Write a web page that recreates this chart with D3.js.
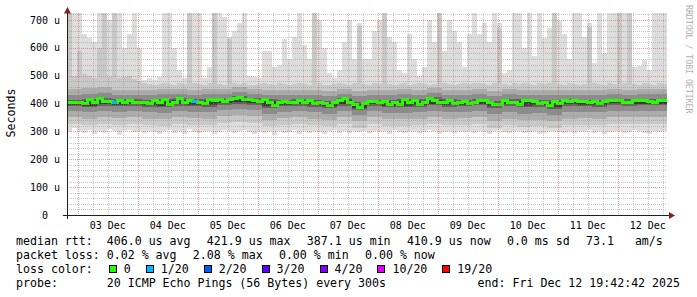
<!DOCTYPE html>
<html>
<head>
<meta charset="utf-8">
<script src="https://cdn.jsdelivr.net/npm/d3@7"></script>
<style>
  body { margin: 0; background: #fff; }
  svg { display: block; }
  text { font-family: "DejaVu Sans Mono", monospace; fill: #000; }
</style>
</head>
<body>
<svg id="chart" width="697" height="297"></svg>
<script>
// ---- data ----
const startTime = "2025-12-02T19:42:42Z";
const endTime = "2025-12-12T19:42:42Z";
const colHours = 2;     // one value every 2 hours
const bandHours = 6;    // inner smoke bands, one value every 6 hours

// top / bottom of the lightest smoke (us)
const maxRtt = [
  725,725,725,650,635,620,725,725,700,725,725,600,650,725,600,485,490,485,495,725,
  725,600,520,490,725,725,725,490,530,725,725,710,640,660,690,725,500,495,490,590,
  590,530,540,630,560,640,725,610,560,725,700,600,510,490,520,620,700,560,690,560,
  560,660,700,725,640,620,520,510,650,560,500,530,700,620,725,590,700,660,620,530,
  650,725,650,690,620,725,690,510,520,725,725,600,725,570,725,635,670,725,695,650,
  560,725,725,640,690,545,725,580,725,725,725,725,725,530,535,555,520,725,725,725
];
const minRtt = [
  298,312,300,296,305,290,300,296,310,302,288,300,306,298,300,294,302,298,292,300,
  304,296,300,292,308,298,294,302,300,290,298,304,300,296,302,306,298,292,300,296,
  300,288,302,296,298,304,292,300,296,302,298,290,300,306,296,300,294,302,298,300,
  296,302,298,300,290,304,298,296,302,300,294,298,306,300,292,298,302,296,300,298,
  302,296,300,298,292,300,304,298,296,300,302,294,298,300,290,296,302,300,298,294,
  300,296,302,298,304,296,300,292,298,302,300,296,298,304,300,296,292,300,298,302
];
// top of the second smoke shade (darker streaks where several pings are slow)
const upper1 = [
  725,500,590,505,498,492,600,725,495,725,490,495,500,488,480,472,470,468,470,475,
  470,468,472,470,725,475,470,468,472,725,470,468,630,472,470,475,468,466,470,472,
  470,468,472,470,466,470,474,470,468,725,472,468,466,470,472,470,468,472,680,470,
  468,472,470,725,470,466,470,472,468,470,474,470,468,470,725,472,470,468,470,472,
  470,474,472,470,468,472,670,470,468,472,470,474,470,468,472,470,474,725,470,468,
  472,470,468,470,675,472,470,468,472,470,725,472,725,470,468,472,470,468,472,470
];
const median = [
  405,405,404,400,414,405,417,406,406,404,410,405,412,405,404,403,400,410,404,415,
  398,404,417,405,410,406,403,400,413,410,416,409,413,418,421,413,416,410,408,413,
  405,393,402,407,405,405,410,404,410,400,402,400,394,405,410,418,405,397,387,400,
  407,406,402,407,396,404,396,415,405,410,397,405,418,412,405,402,410,399,402,408,
  400,405,412,412,402,398,396,412,404,405,396,410,411,408,400,405,393,408,400,410,
  406,410,408,408,404,408,400,408,412,410,410,405,404,410,412,410,408,405,410,411
];
// lost pings (out of 20) per column
const lost = [
  0,0,0,0,0,0,0,0,0,1,0,0,0,0,0,0,0,0,0,0,
  0,0,0,0,0,1,0,0,0,0,0,0,0,0,0,0,0,0,0,0,
  0,0,0,0,0,0,0,0,0,0,0,0,0,0,0,0,0,0,0,0,
  0,0,0,0,0,0,0,0,0,0,0,0,0,0,0,0,0,0,0,0,
  0,0,0,0,0,0,0,0,0,0,0,0,0,0,0,0,0,0,0,0,
  0,0,0,0,0,0,0,0,0,0,0,0,0,0,0,0,0,0,0,0
];
const lower1 = [326,322,326,324,326,322,320,326,324,322,330,334,330,318,324,326,322,318,326,314,326,320,320,322,328,322,324,326,314,322,316,318,312,322,324,322,328,326,328,326];
const upper2 = [452,456,458,450,450,448,452,454,450,452,454,458,454,450,448,450,448,446,454,444,448,448,452,450,456,450,448,452,446,452,450,448,448,450,448,448,452,450,452,452];
const lower2 = [350,346,350,348,350,346,344,350,348,346,354,358,354,342,348,350,346,342,350,338,350,344,344,346,352,346,348,350,338,346,340,342,336,346,348,346,352,350,352,350];
const upper3 = [432,436,438,432,432,430,434,436,432,434,436,440,436,432,430,432,430,428,436,426,430,430,434,432,438,432,430,434,428,434,432,430,430,432,430,430,434,432,434,434];
const lower3 = [372,368,372,370,372,368,366,372,370,368,376,380,376,364,370,372,368,364,372,360,372,366,366,368,374,368,370,372,362,370,364,366,360,370,370,368,374,372,374,372];
const upper4 = [414,418,420,415,416,414,418,420,415,418,421,426,421,416,413,415,414,410,420,406,413,413,418,415,422,415,414,418,409,417,416,414,413,416,414,414,418,416,418,417];
const lower4 = [390,386,392,390,392,388,386,392,390,388,396,400,396,384,390,392,388,384,392,378,392,386,386,388,394,388,390,394,384,392,386,388,382,392,390,388,396,392,394,394];
const upper5 = [408,410,412,408,410,406,410,412,408,410,414,418,414,408,406,408,406,402,412,398,406,404,410,408,414,406,406,410,400,410,408,406,404,410,406,406,412,408,410,410];
const lower5 = [396,392,398,396,398,394,392,398,396,394,402,406,402,390,396,398,394,390,398,384,398,392,392,394,400,394,396,400,390,398,392,394,388,398,396,394,402,398,400,400];

const yMajor = [0,100,200,300,400,500,600,700];
const lossSteps = [0,1,2,3,4,10,19];
const lossLabels = ["0","1/20","2/20","3/20","4/20","10/20","19/20"];
const lossColors = ["#26ff00","#00b8ff","#0059ff","#5e00ff","#7e00ff","#dd00ff","#ff0000"];
const rttStats = ["406.0 us avg","421.9 us max","387.1 us min","410.9 us now","0.0 ms sd","73.1   am/s"];
const lossStats = ["0.02 % avg","2.08 % max","0.00 % min","0.00 % now"];
const probeText = "20 ICMP Echo Pings (56 Bytes) every 300s";
const endText = "end: Fri Dec 12 19:42:42 2025";

// ---- layout ----
const svg = d3.select("#chart");
const plot = { left: 67, right: 667, top: 13, bottom: 215 };
const t0 = new Date(startTime), t1 = new Date(endTime);
const x = d3.scaleUtc().domain([t0, t1]).range([plot.left, plot.right]);
const y = d3.scaleLinear().domain([0, 725]).range([plot.bottom, plot.top]);

svg.append("clipPath").attr("id", "clip")
  .append("rect").attr("x", plot.left).attr("y", plot.top)
  .attr("width", plot.right - plot.left).attr("height", plot.bottom - plot.top);

const g = svg.append("g").attr("clip-path", "url(#clip)");

function bandRows(lo, hi, hours) {
  const n = Math.max(lo.length || 0, hi.length || 0);
  return d3.range(n + 1).map(i => {
    const k = Math.min(i, n - 1);
    return {
      t: d3.utcHour.offset(t0, i * hours),
      lo: Array.isArray(lo) ? lo[k] : lo,
      hi: Array.isArray(hi) ? hi[k] : hi
    };
  });
}
const area = d3.area().x(d => x(d.t)).y0(d => y(d.lo)).y1(d => y(d.hi)).curve(d3.curveStepAfter);

function band(lo, hi, hours, color) {
  g.append("path").datum(bandRows(lo, hi, hours))
    .attr("d", area).attr("fill", color).attr("shape-rendering", "crispEdges");
}
band(minRtt, maxRtt, colHours, "#dddddd");
band(400, upper1, colHours, "#c8c8c8");
band(lower1, 400, bandHours, "#c8c8c8");
band(lower2, upper2, bandHours, "#adadad");
band(lower3, upper3, bandHours, "#8c8c8c");
band(lower4, upper4, bandHours, "#626262");
band(lower5, upper5, bandHours, "#3a3a3a");

// median line, coloured by loss
const medRows = d3.range(median.length + 1).map(i => ({
  t: d3.utcHour.offset(t0, i * colHours), v: median[Math.min(i, median.length - 1)]
}));
const line = d3.line().x(d => x(d.t)).y(d => y(d.v)).curve(d3.curveStepAfter);
g.append("path").datum(medRows).attr("d", line)
  .attr("fill", "none").attr("stroke", lossColors[0]).attr("stroke-width", 3)
  .attr("shape-rendering", "crispEdges");
lost.forEach((l, i) => {
  if (!l) return;
  const c = lossColors[d3.bisectRight(lossSteps, l) - 1];
  g.append("path").datum([medRows[i], { t: medRows[i + 1].t, v: median[i] }])
    .attr("d", line).attr("fill", "none").attr("stroke", c).attr("stroke-width", 3)
    .attr("shape-rendering", "crispEdges");
});

// grid on top of the smoke
const grid = svg.append("g").attr("shape-rendering", "crispEdges");
const px = v => Math.round(v) + 0.5;
d3.range(20, 725, 20).filter(v => v % 100 !== 0).forEach(v => {
  grid.append("line").attr("x1", plot.left).attr("x2", plot.right)
    .attr("y1", px(y(v))).attr("y2", px(y(v)))
    .attr("stroke", "rgba(143,143,143,0.5)").attr("stroke-dasharray", "1,1");
});
d3.utcHour.every(6).range(t0, t1).filter(t => t.getUTCHours() !== 0).forEach(t => {
  grid.append("line").attr("x1", px(x(t))).attr("x2", px(x(t)))
    .attr("y1", plot.top).attr("y2", plot.bottom)
    .attr("stroke", "rgba(143,143,143,0.5)").attr("stroke-dasharray", "1,1");
});
yMajor.filter(v => v > 0).forEach(v => {
  grid.append("line").attr("x1", plot.left).attr("x2", plot.right)
    .attr("y1", px(y(v))).attr("y2", px(y(v)))
    .attr("stroke", "rgba(222,80,80,0.55)").attr("stroke-dasharray", "1,1");
});
const days = d3.utcDay.range(t0, t1);
days.forEach(t => {
  grid.append("line").attr("x1", px(x(t))).attr("x2", px(x(t)))
    .attr("y1", plot.top).attr("y2", plot.bottom)
    .attr("stroke", "rgba(222,80,80,0.55)").attr("stroke-dasharray", "1,1");
});

// axes
const ax = svg.append("g").attr("shape-rendering", "crispEdges");
ax.append("line").attr("x1", 63).attr("x2", 670).attr("y1", plot.bottom + 0.5).attr("y2", plot.bottom + 0.5)
  .attr("stroke", "#1f1f1f");
ax.append("line").attr("x1", plot.left + 0.5).attr("x2", plot.left + 0.5).attr("y1", 219).attr("y2", 11)
  .attr("stroke", "#1f1f1f");
svg.append("path").attr("d", "M64,13.5L71,13.5L67.5,7Z").attr("fill", "#7f1f1f");
svg.append("path").attr("d", "M669,212L669,219L675,215.5Z").attr("fill", "#7f1f1f");

yMajor.forEach(v => {
  svg.append("text").attr("x", v === 0 ? 48 : 60).attr("y", y(v) + 3.6)
    .attr("text-anchor", "end").style("font-size", "10px")
    .text(v === 0 ? "0" : v + " u");
});
days.forEach(t => {
  const noon = d3.utcHour.offset(t, 12);
  if (noon > t1) return;
  svg.append("text").attr("x", x(noon)).attr("y", 228.6)
    .attr("text-anchor", "middle").style("font-size", "10px")
    .text(d3.utcFormat("%d %b")(noon));
});

svg.append("text").attr("transform", "translate(15,113) rotate(-90)")
  .attr("text-anchor", "middle").style("font-size", "11.6px").text("Seconds");
svg.append("text").attr("transform", "translate(685.5,5) rotate(90)")
  .style("font-size", "8.2px").style("fill", "#b0b0b0").text("RRDTOOL / TOBI OETIKER");

// legend
const fs = "11.6px";
const probe = svg.append("text").style("font-size", fs).text("0000000000");
const cw = probe.node().getComputedTextLength() / 10;
probe.remove();
const col0 = 16, col1 = 16 + 13 * cw, gap = 2.33 * cw;
const rows = [245, 259, 273, 287];

function legendText(xp, yp, s, anchor) {
  svg.append("text").attr("x", xp).attr("y", yp).attr("xml:space", "preserve")
    .attr("text-anchor", anchor || "start").style("font-size", fs).text(s);
}
legendText(col0, rows[0], "median rtt:");
let cx = col1;
rttStats.forEach(s => { legendText(cx, rows[0], s); cx += s.length * cw + gap; });

legendText(col0, rows[1], "packet loss:");
cx = col1;
lossStats.forEach(s => { legendText(cx, rows[1], s); cx += s.length * cw + gap; });

legendText(col0, rows[2], "loss color:");
let bx = col1 + 2;
lossLabels.forEach((s, i) => {
  svg.append("rect").attr("x", bx + 0.5).attr("y", rows[2] - 7.5).attr("width", 7).attr("height", 7)
    .attr("fill", lossColors[i]).attr("stroke", "#000").attr("shape-rendering", "crispEdges");
  legendText(bx + 15, rows[2], s);
  bx = bx + 15 + s.length * cw + 15;
});

legendText(col0, rows[3], "probe:");
legendText(col1, rows[3], probeText);
legendText(680, rows[3], endText, "end");
</script>
</body>
</html>
